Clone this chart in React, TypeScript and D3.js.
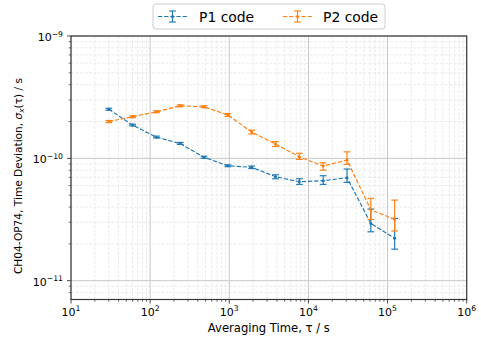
import React from "react";
import * as d3 from "d3";

// Averaging times (s) and time deviation results for the two codes
const TAU = [30, 60, 120, 240, 480, 960, 1920, 3840, 7680, 15360, 30720, 61440, 122880];

const P1 = [2.52e-10, 1.87e-10, 1.49e-10, 1.32e-10, 1.02e-10, 8.7e-11, 8.44e-11, 7.08e-11, 6.44e-11, 6.56e-11, 6.95e-11, 2.94e-11, 2.22e-11];
const P1_LO = [2.47e-10, 1.84e-10, 1.47e-10, 1.3e-10, 1.0e-10, 8.55e-11, 8.25e-11, 6.81e-11, 6.13e-11, 6.13e-11, 6.36e-11, 2.51e-11, 1.81e-11];
const P1_HI = [2.57e-10, 1.9e-10, 1.52e-10, 1.35e-10, 1.04e-10, 8.85e-11, 8.65e-11, 7.34e-11, 6.81e-11, 7.21e-11, 8.18e-11, 3.85e-11, 3.23e-11];

const P2 = [2.0e-10, 2.19e-10, 2.4e-10, 2.69e-10, 2.64e-10, 2.26e-10, 1.64e-10, 1.31e-10, 1.03e-10, 8.65e-11, 9.68e-11, 3.8e-11, 3.17e-11];
const P2_LO = [1.96e-10, 2.15e-10, 2.36e-10, 2.64e-10, 2.59e-10, 2.2e-10, 1.58e-10, 1.25e-10, 9.8e-11, 8.0e-11, 8.93e-11, 3.17e-11, 2.55e-11];
const P2_HI = [2.04e-10, 2.23e-10, 2.45e-10, 2.74e-10, 2.69e-10, 2.32e-10, 1.7e-10, 1.37e-10, 1.1e-10, 9.2e-11, 1.13e-10, 4.71e-11, 4.56e-11];

const SERIES_NAMES = ["P1 code", "P2 code"];
const X_TICK_EXP = [1, 2, 3, 4, 5, 6];
const Y_TICK_EXP = [-9, -10, -11];

const W = 481;
const H = 340;
const M = { left: 71, right: 466.7, top: 36, bottom: 299.5 };
const FONT = "'DejaVu Sans', sans-serif";
const COLORS = ["#1f77b4", "#ff7f0e"];

export default function App() {
  const x = d3.scaleLog().domain([10, 1e6]).range([M.left, M.right]);
  const y = d3.scaleLog().domain([7.02e-12, 1e-9]).range([M.bottom, M.top]);

  const minorX: number[] = [];
  for (let e = 1; e < 6; e++) for (let k = 2; k <= 9; k++) minorX.push(k * Math.pow(10, e));
  const minorY: number[] = [];
  for (let e = -12; e < -9; e++)
    for (let k = 2; k <= 9; k++) {
      const v = k * Math.pow(10, e);
      if (v >= 7.02e-12 && v <= 1e-9) minorY.push(v);
    }

  const line = d3
    .line<[number, number]>()
    .x((d) => x(d[0]))
    .y((d) => y(d[1]));

  const series = [
    { v: P1, lo: P1_LO, hi: P1_HI },
    { v: P2, lo: P2_LO, hi: P2_HI },
  ];

  const cap = 3.4;
  const lw = 1.15;
  const dash = "4.3,1.85";
  const tickFs = 11;
  const supFs = 7.7;

  return (
    <svg width={W} height={H} style={{ position: "absolute", left: 0, top: 0, fontFamily: FONT }}>
      <rect x={0} y={0} width={W} height={H} fill="#fff" />
      {/* minor grid */}
      {minorX.map((v) => (
        <line key={"mgx" + v} x1={x(v)} x2={x(v)} y1={M.top} y2={M.bottom} stroke="#e4e4e4" strokeWidth={0.8} strokeDasharray="3,1.5" />
      ))}
      {minorY.map((v) => (
        <line key={"mgy" + v} x1={M.left} x2={M.right} y1={y(v)} y2={y(v)} stroke="#e4e4e4" strokeWidth={0.8} strokeDasharray="3,1.5" />
      ))}
      {/* major grid */}
      {X_TICK_EXP.map((e) => (
        <line key={"gx" + e} x1={x(Math.pow(10, e))} x2={x(Math.pow(10, e))} y1={M.top} y2={M.bottom} stroke="#c8c8c8" strokeWidth={1} />
      ))}
      {Y_TICK_EXP.map((e) => (
        <line key={"gy" + e} x1={M.left} x2={M.right} y1={y(Math.pow(10, e))} y2={y(Math.pow(10, e))} stroke="#c8c8c8" strokeWidth={1} />
      ))}

      {/* series with error bars */}
      {series.map((s, i) => {
        const pts = TAU.map((t, j) => [t, s.v[j]] as [number, number]);
        return (
          <g key={"s" + i} stroke={COLORS[i]} fill={COLORS[i]}>
            <path d={line(pts) || ""} fill="none" strokeWidth={lw} strokeDasharray={dash} />
            {TAU.map((t, j) => {
              const cx = x(t);
              const y1 = y(s.hi[j]);
              const y2 = y(s.lo[j]);
              return (
                <g key={j} strokeWidth={lw}>
                  <line x1={cx} x2={cx} y1={y1} y2={y2} />
                  <line x1={cx - cap} x2={cx + cap} y1={y1} y2={y1} />
                  <line x1={cx - cap} x2={cx + cap} y1={y2} y2={y2} />
                  <circle cx={cx} cy={y(s.v[j])} r={1.5} stroke="none" />
                </g>
              );
            })}
          </g>
        );
      })}

      {/* spines */}
      <rect x={M.left} y={M.top} width={M.right - M.left} height={M.bottom - M.top} fill="none" stroke="#333" strokeWidth={1.15} />

      {/* x ticks */}
      {minorX.map((v) => (
        <line key={"tx" + v} x1={x(v)} x2={x(v)} y1={M.bottom} y2={M.bottom + 2.3} stroke="#333" strokeWidth={0.7} />
      ))}
      {X_TICK_EXP.map((e) => {
        const px = x(Math.pow(10, e));
        return (
          <g key={"xt" + e}>
            <line x1={px} x2={px} y1={M.bottom} y2={M.bottom + 4} stroke="#333" strokeWidth={0.9} />
            <text x={px} y={315.5} textAnchor="middle" fontSize={tickFs} fill="#000">
              <tspan>10</tspan>
              <tspan fontSize={supFs} dy={-4.5}>{String(e)}</tspan>
            </text>
          </g>
        );
      })}

      {/* y ticks */}
      {minorY.map((v) => (
        <line key={"ty" + v} x1={M.left - 2.3} x2={M.left} y1={y(v)} y2={y(v)} stroke="#333" strokeWidth={0.7} />
      ))}
      {Y_TICK_EXP.map((e) => {
        const py = y(Math.pow(10, e));
        return (
          <g key={"yt" + e}>
            <line x1={M.left - 4} x2={M.left} y1={py} y2={py} stroke="#333" strokeWidth={0.9} />
            <text x={63} y={py + 5} textAnchor="end" fontSize={tickFs} fill="#000">
              <tspan>10</tspan>
              <tspan fontSize={supFs} dy={-4.5}>{"\u2212" + String(-e)}</tspan>
            </text>
          </g>
        );
      })}

      {/* axis labels */}
      <text x={(M.left + M.right) / 2} y={332} textAnchor="middle" fontSize={11.6} fill="#000">
        Averaging Time, τ / s
      </text>
      <text
        transform={`translate(22,176) rotate(-90)`}
        textAnchor="middle"
        fontSize={10.6}
        fill="#000"
      >
        <tspan>CH04-OP74, Time Deviation, </tspan>
        <tspan fontStyle="italic">σ</tspan>
        <tspan fontStyle="italic" fontSize={7.4} dy={2}>x</tspan>
        <tspan dy={-2}>(τ) / s</tspan>
      </text>

      {/* legend */}
      <g>
        <rect x={153} y={4} width={232} height={25} rx={3} fill="#fff" fillOpacity={0.8} stroke="#cccccc" strokeWidth={1} />
        {SERIES_NAMES.map((name, i) => {
          const hx = [158, 283][i];
          const tx = [199, 323][i];
          const cy = 16.5;
          return (
            <g key={name}>
              <g stroke={COLORS[i]} fill={COLORS[i]} strokeWidth={lw}>
                <line x1={hx} x2={hx + 29} y1={cy} y2={cy} strokeDasharray={dash} />
                <line x1={hx + 14.5} x2={hx + 14.5} y1={cy - 5.5} y2={cy + 5.5} />
                <line x1={hx + 14.5 - cap} x2={hx + 14.5 + cap} y1={cy - 5.5} y2={cy - 5.5} />
                <line x1={hx + 14.5 - cap} x2={hx + 14.5 + cap} y1={cy + 5.5} y2={cy + 5.5} />
                <circle cx={hx + 14.5} cy={cy} r={1.5} stroke="none" />
              </g>
              <text x={tx} y={21.8} fontSize={13.9} fill="#000">
                {name}
              </text>
            </g>
          );
        })}
      </g>
    </svg>
  );
}
